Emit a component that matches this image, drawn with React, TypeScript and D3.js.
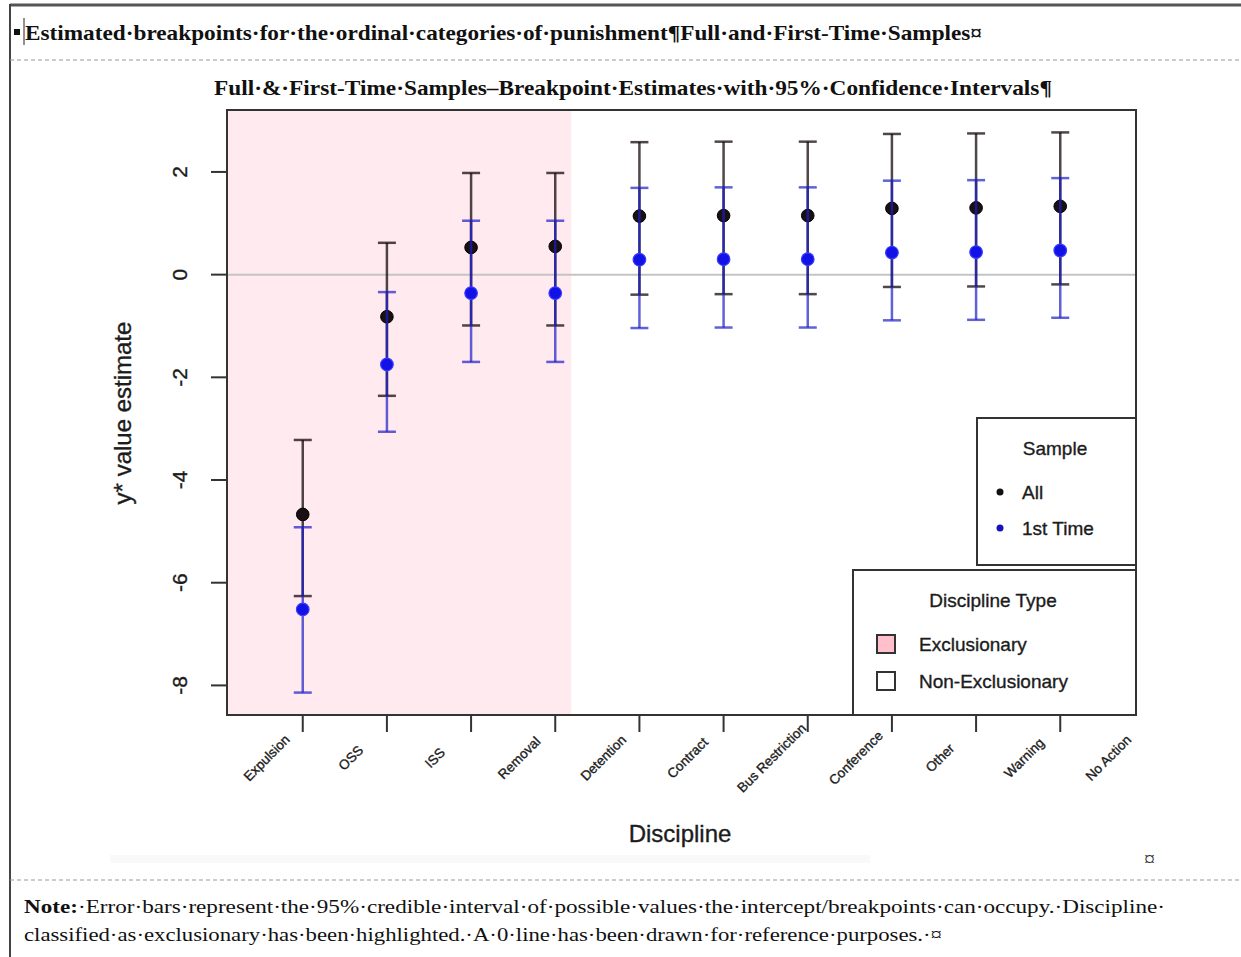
import React from 'react';
import * as d3 from 'd3';

// ordinal discipline categories (x axis)
const categories = ['Expulsion', 'OSS', 'ISS', 'Removal', 'Detention', 'Contract', 'Bus Restriction', 'Conference', 'Other', 'Warning'];
const tickLabels = ['Expulsion', 'OSS', 'ISS', 'Removal', 'Detention', 'Contract', 'Bus Restriction', 'Conference', 'Other', 'Warning', 'No Action'];

// full sample ("All")
const allEst = [-4.67, -0.82, 0.53, 0.55, 1.14, 1.15, 1.15, 1.29, 1.30, 1.33];
const allLo = [-6.26, -2.36, -0.99, -0.99, -0.39, -0.38, -0.38, -0.24, -0.23, -0.19];
const allHi = [-3.22, 0.62, 1.98, 1.98, 2.58, 2.59, 2.59, 2.74, 2.75, 2.77];

// first-time sample
const firstEst = [-6.52, -1.75, -0.36, -0.36, 0.29, 0.30, 0.30, 0.43, 0.44, 0.47];
const firstLo = [-8.14, -3.06, -1.70, -1.70, -1.04, -1.03, -1.03, -0.89, -0.88, -0.84];
const firstHi = [-4.92, -0.34, 1.05, 1.05, 1.69, 1.70, 1.70, 1.83, 1.84, 1.88];

const yTicks = [-8, -6, -4, -2, 0, 2];
const exclusionaryEnd = 4.19; // shaded band ends here (x units)

const W = 1241;
const H = 957;
const plot = { left: 227, right: 1136, top: 110, bottom: 715 };

const sans = '"Liberation Sans", Arial, Helvetica, sans-serif';
const serif = '"Liberation Serif", "Times New Roman", serif';
const ink = '#1c1c1c';

export default function App() {
  const x = d3.scaleLinear().domain([0.1, 10.9]).range([plot.left, plot.right]);
  const lo = d3.min(allLo.concat(firstLo)) as number;
  const hi = d3.max(allHi.concat(firstHi)) as number;
  const pad = (hi - lo) * 0.04;
  const y = d3.scaleLinear().domain([lo - pad, hi + pad]).range([plot.bottom, plot.top]);

  const cap = 9;
  const errorBars = (est: number[], los: number[], his: number[], color: string, width: number, key: string) =>
    est.map((_, i) => {
      const cx = x(i + 1);
      return (
        <g key={key + i} stroke={color} strokeWidth={width} fill="none">
          <line x1={cx} x2={cx} y1={y(los[i])} y2={y(his[i])} />
          <line x1={cx - cap} x2={cx + cap} y1={y(los[i])} y2={y(los[i])} />
          <line x1={cx - cap} x2={cx + cap} y1={y(his[i])} y2={y(his[i])} />
        </g>
      );
    });

  const label = { fontFamily: sans, fill: ink, stroke: ink, strokeWidth: 0.35 };

  return (
    <svg width={W} height={H} viewBox={`0 0 ${W} ${H}`} style={{ position: 'absolute', left: 0, top: 0, background: '#fff' }}>
      {/* document frame */}
      <line x1={10} x2={W} y1={5} y2={5} stroke="#555" strokeWidth={3} />
      <line x1={10} x2={10} y1={4} y2={H} stroke="#444" strokeWidth={2} />
      <line x1={10} x2={W} y1={60} y2={60} stroke="#999" strokeWidth={1} strokeDasharray="4,3" />
      <line x1={10} x2={W} y1={880} y2={880} stroke="#999" strokeWidth={1} strokeDasharray="4,3" />
      <rect x={14} y={29} width={6} height={6} fill="#111" />
      <line x1={24} x2={24} y1={18} y2={45} stroke="#222" strokeWidth={1} />
      <text x={25} y={40} fontFamily={serif} fontWeight="bold" fontSize={21} fill="#111"
        textLength={957} lengthAdjust="spacingAndGlyphs">
        Estimated·breakpoints·for·the·ordinal·categories·of·punishment¶Full·and·First-Time·Samples¤
      </text>
      <text x={214} y={95} fontFamily={serif} fontWeight="bold" fontSize={21} fill="#111"
        textLength={838} lengthAdjust="spacingAndGlyphs">
        Full·&amp;·First-Time·Samples–Breakpoint·Estimates·with·95%·Confidence·Intervals¶
      </text>

      {/* plot background + exclusionary band */}
      <rect x={plot.left} y={plot.top} width={plot.right - plot.left} height={plot.bottom - plot.top} fill="#fff" />
      <rect x={plot.left} y={plot.top} width={x(exclusionaryEnd) - plot.left} height={plot.bottom - plot.top} fill="#ffeaef" />
      <line x1={plot.left} x2={plot.right} y1={y(0)} y2={y(0)} stroke="#c4c4c4" strokeWidth={2} />

      {errorBars(allEst, allLo, allHi, 'rgba(20,10,14,0.75)', 2.5, 'a')}
      {allEst.map((v, i) => (
        <circle key={'pa' + i} cx={x(i + 1)} cy={y(v)} r={6.3} fill="#1a1014" stroke="#000" strokeWidth={1} />
      ))}
      {errorBars(firstEst, firstLo, firstHi, 'rgba(30,30,200,0.7)', 2.5, 'f')}
      {firstEst.map((v, i) => (
        <circle key={'pf' + i} cx={x(i + 1)} cy={y(v)} r={6.3} fill="#1212e6" stroke="#3b3bff" strokeWidth={1.2} />
      ))}

      {/* frame */}
      <rect x={plot.left} y={plot.top} width={plot.right - plot.left} height={plot.bottom - plot.top} fill="none" stroke="#333" strokeWidth={2} />

      {/* y axis */}
      {yTicks.map((t) => (
        <g key={'yt' + t}>
          <line x1={plot.left - 16} x2={plot.left} y1={y(t)} y2={y(t)} stroke="#333" strokeWidth={2} />
          <text transform={`translate(187,${y(t)}) rotate(-90)`} textAnchor="middle" fontSize={21} {...label}>
            {t}
          </text>
        </g>
      ))}
      <text transform={`translate(131,${413}) rotate(-90)`} textAnchor="middle" fontSize={24} {...label}>
        y* value estimate
      </text>

      {/* x axis */}
      {categories.map((c, i) => (
        <line key={'xt' + c} x1={x(i + 1)} x2={x(i + 1)} y1={plot.bottom} y2={plot.bottom + 17} stroke="#333" strokeWidth={2} />
      ))}
      {tickLabels.map((c, i) => (
        <text key={'xl' + c} transform={`translate(${x(i + 1) - 36},758) rotate(-45)`} textAnchor="middle"
          dominantBaseline="central" fontSize={13.5} {...label}>
          {c}
        </text>
      ))}
      <text x={680} y={842} textAnchor="middle" fontSize={24} {...label}>Discipline</text>

      {/* legend: Sample */}
      <rect x={977} y={418} width={159} height={147} fill="#fff" stroke="#333" strokeWidth={2} />
      <text x={1055} y={455} textAnchor="middle" fontSize={19} {...label}>Sample</text>
      <circle cx={1000} cy={492} r={3.5} fill="#111" />
      <text x={1022} y={499} fontSize={19} {...label}>All</text>
      <circle cx={1000} cy={528} r={3.5} fill="#1212c0" />
      <text x={1022} y={535} fontSize={19} {...label}>1st Time</text>

      {/* legend: Discipline Type */}
      <rect x={853} y={570} width={283} height={145} fill="#fff" stroke="#333" strokeWidth={2} />
      <text x={993} y={607} textAnchor="middle" fontSize={19} {...label}>Discipline Type</text>
      <rect x={877} y={635} width={18} height={18} fill="#ffc0cb" stroke="#333" strokeWidth={2} />
      <text x={919} y={651} fontSize={19} {...label}>Exclusionary</text>
      <rect x={877} y={672} width={18} height={18} fill="#fff" stroke="#333" strokeWidth={2} />
      <text x={919} y={688} fontSize={19} {...label}>Non-Exclusionary</text>

      {/* document footer */}
      <rect x={110} y={855} width={760} height={8} fill="#f9f9f9" />
      <text x={1144} y={866} fontFamily={serif} fontSize={22} fill="#333">¤</text>
      <text x={24} y={913} fontFamily={serif} fontSize={19} fill="#111" textLength={1141} lengthAdjust="spacingAndGlyphs">
        <tspan fontWeight="bold">Note:</tspan>
        <tspan>·Error·bars·represent·the·95%·credible·interval·of·possible·values·the·intercept/breakpoints·can·occupy.·Discipline·</tspan>
      </text>
      <text x={24} y={941} fontFamily={serif} fontSize={19} fill="#111" textLength={918} lengthAdjust="spacingAndGlyphs">
        classified·as·exclusionary·has·been·highlighted.·A·0·line·has·been·drawn·for·reference·purposes.·¤
      </text>
    </svg>
  );
}
